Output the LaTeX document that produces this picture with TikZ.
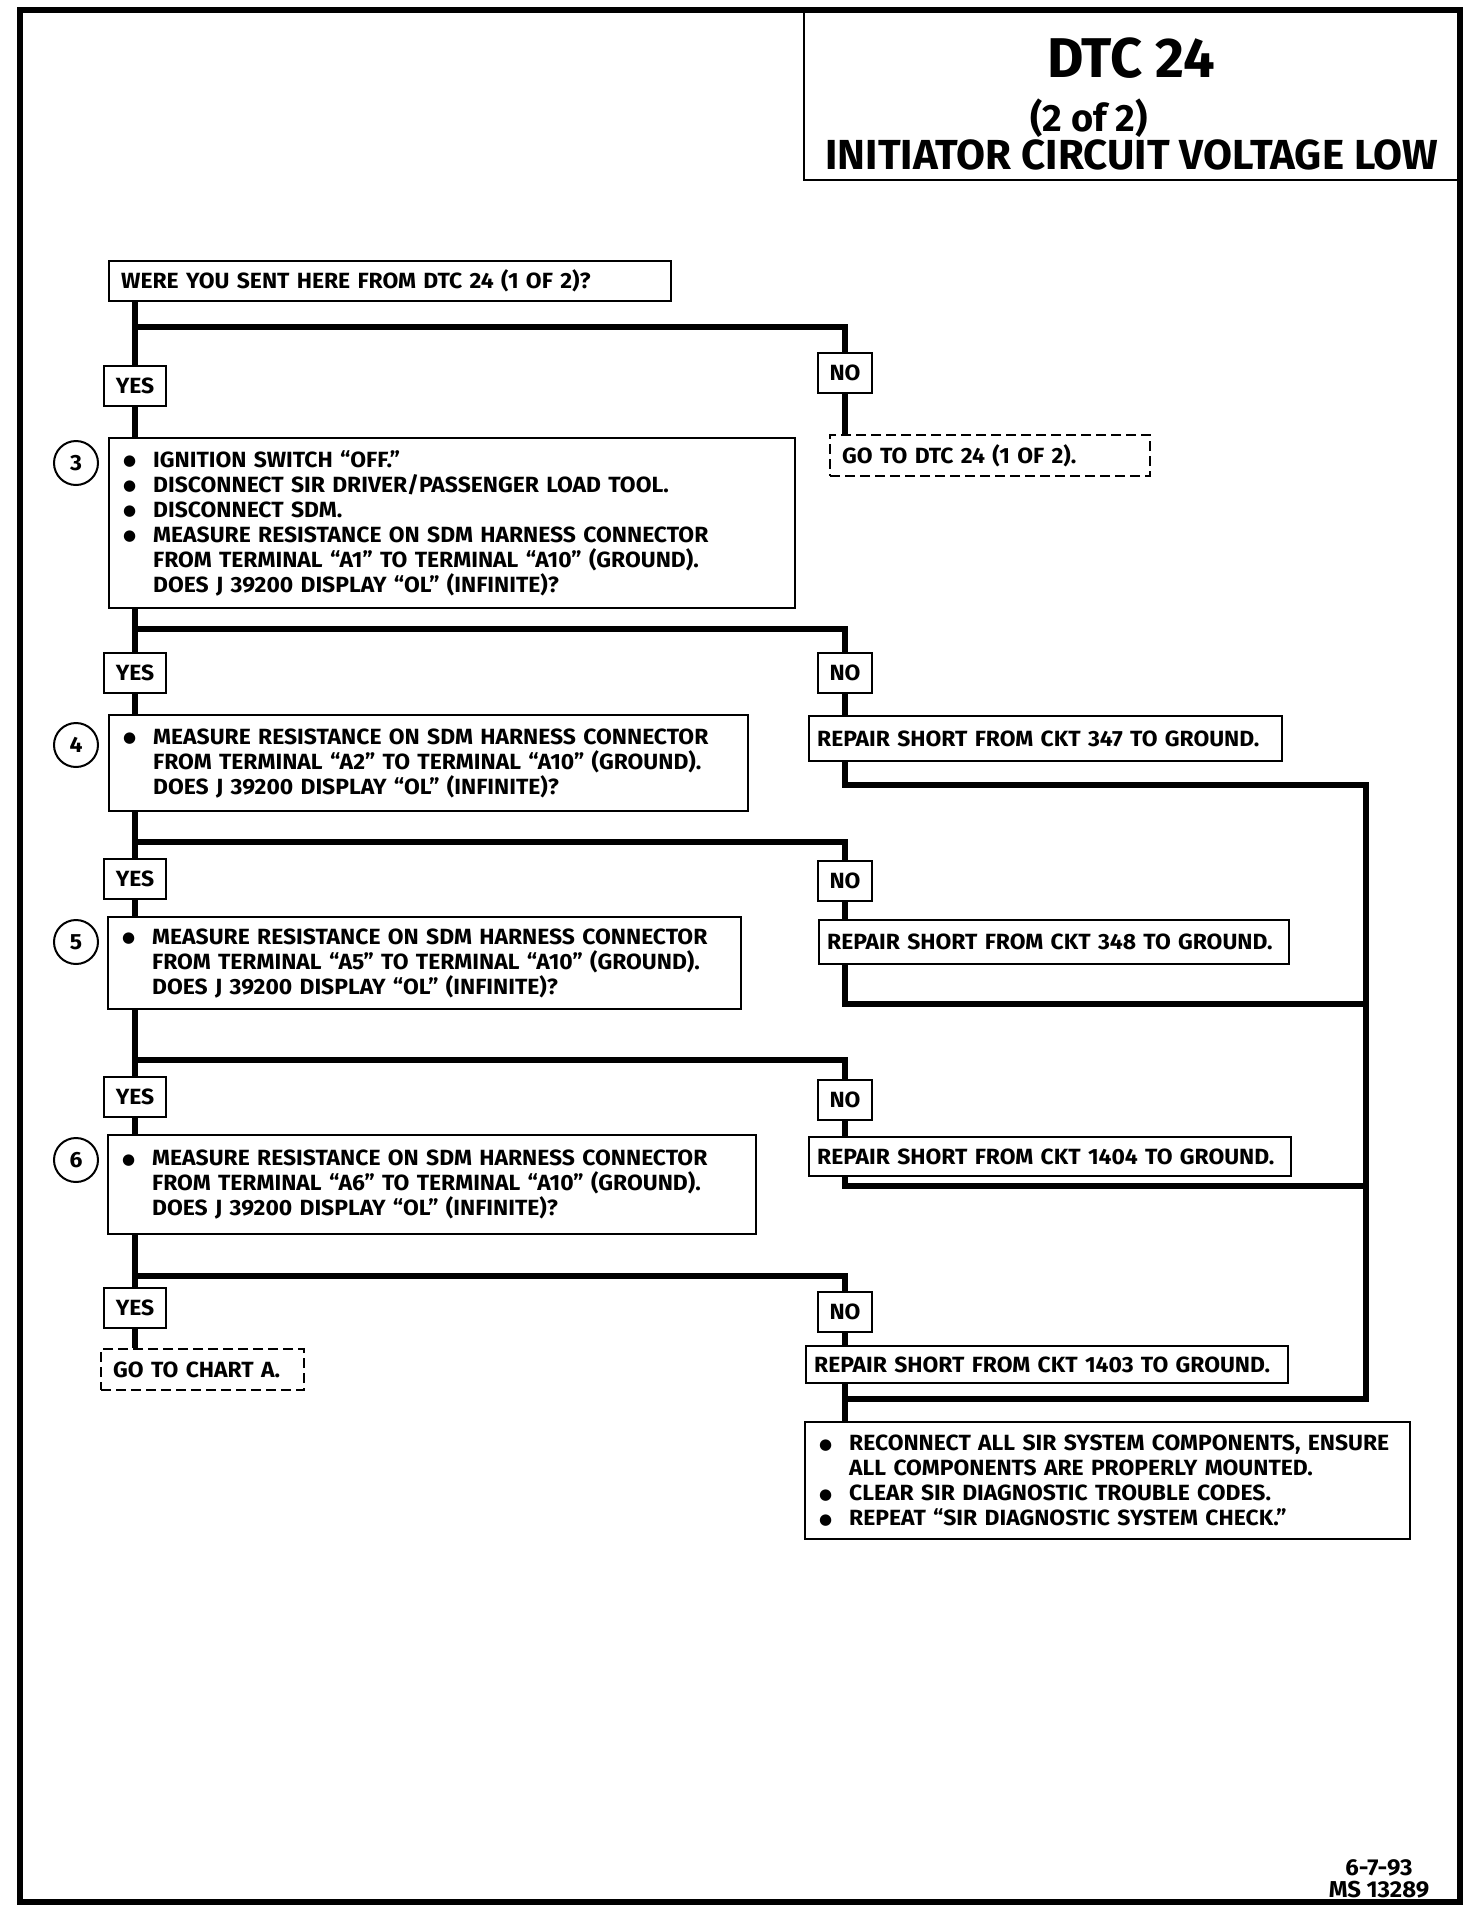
\documentclass[tikz,border=0pt]{standalone}
\usepackage{fontspec}
\setmainfont{Fira Sans}
\newfontfamily\sirfont{Fira Sans}[FakeStretch=1.04]
\newfontfamily\dotfont{DejaVu Sans}
\newcommand{\bodyfont}{\sirfont\bfseries\fontsize{11}{12.45}\selectfont}
\newcommand{\sirbul}{\makebox[16pt][l]{\hspace{1pt}\raisebox{0.8pt}{\dotfont\fontsize{7.5}{7.5}\selectfont ●}}}
\newcommand{\sirind}{\hspace*{16pt}}
\tikzset{
  conn/.style={line width=3pt},
  stepbox/.style={draw, line width=1.2pt, anchor=north west, align=left, inner xsep=6pt, inner ysep=0pt, font=\bodyfont},
  repairbox/.style={stepbox, inner xsep=4pt},
  gobox/.style={stepbox, dash pattern=on 5pt off 2.5pt},
  ans/.style={draw, line width=1.2pt, inner sep=0pt, minimum height=20pt, font=\bodyfont},
  stepnum/.style={draw, circle, line width=1pt, minimum size=22pt, inner sep=0pt, font=\bodyfont}
}

\begin{document}
\begin{tikzpicture}[x=0.5pt,y=-0.5pt]
    \useasboundingbox (0,0) rectangle (1472,1912);
    \draw[line width=3pt] (20,10) rectangle (1460,1902); % page frame
    \draw[line width=1.2pt] (804,10) rectangle (1460,180); % title panel

    \node[font=\bfseries\fontsize{28}{28}\selectfont] (dtc) at (1131,58) {DTC 24};
    \node[font=\bfseries\fontsize{19}{19}\selectfont] (part) at (1089,118) {(2 of 2)};
    \node[font=\bfseries\fontsize{21}{21}\selectfont] (ttl) at (1132,155) {INITIATOR CIRCUIT VOLTAGE LOW};

    % question and test steps
    \node[stepbox, text width=269pt, minimum height=20pt] (q) at (108,260) {WERE YOU SENT HERE FROM DTC 24 (1 OF 2)?};
    \node[stepbox, text width=331pt, minimum height=85pt] (s3) at (108,437) {\sirbul IGNITION SWITCH “OFF.”\\
        \sirbul DISCONNECT SIR DRIVER/PASSENGER LOAD TOOL.\\
        \sirbul DISCONNECT SDM.\\
        \sirbul MEASURE RESISTANCE ON SDM HARNESS CONNECTOR\\
        \sirind FROM TERMINAL “A1” TO TERMINAL “A10” (GROUND).\\
        \sirind DOES J 39200 DISPLAY “OL” (INFINITE)?};
    \node[stepbox, text width=307.5pt, minimum height=48pt] (s4) at (108,714) {\sirbul MEASURE RESISTANCE ON SDM HARNESS CONNECTOR\\
        \sirind FROM TERMINAL “A2” TO TERMINAL “A10” (GROUND).\\
        \sirind DOES J 39200 DISPLAY “OL” (INFINITE)?};
    \node[stepbox, text width=304.5pt, minimum height=46pt] (s5) at (107,916) {\sirbul MEASURE RESISTANCE ON SDM HARNESS CONNECTOR\\
        \sirind FROM TERMINAL “A5” TO TERMINAL “A10” (GROUND).\\
        \sirind DOES J 39200 DISPLAY “OL” (INFINITE)?};
    \node[stepbox, text width=312pt, minimum height=49.5pt] (s6) at (107,1134) {\sirbul MEASURE RESISTANCE ON SDM HARNESS CONNECTOR\\
        \sirind FROM TERMINAL “A6” TO TERMINAL “A10” (GROUND).\\
        \sirind DOES J 39200 DISPLAY “OL” (INFINITE)?};
    \foreach \n/\y in {3/463,4/745,5/942,6/1160}
        \node[stepnum] (c\n) at (76,\y) {\n}; % step numbers

    % repairs and exits
    \node[gobox, text width=148pt, minimum height=20.5pt] (go1) at (829,434) {GO TO DTC 24 (1 OF 2).};
    \node[gobox, text width=89.5pt, minimum height=20.5pt] (goA) at (100,1348) {GO TO CHART A.};
    \node[repairbox, text width=228.5pt, minimum height=22.5pt] (r347) at (808,715) {REPAIR SHORT FROM CKT 347 TO GROUND.};
    \node[repairbox, text width=227pt, minimum height=22pt] (r348) at (818,919) {REPAIR SHORT FROM CKT 348 TO GROUND.};
    \node[repairbox, text width=233pt, minimum height=19.5pt] (r1404) at (808,1136) {REPAIR SHORT FROM CKT 1404 TO GROUND.};
    \node[repairbox, text width=233pt, minimum height=18.5pt] (r1403) at (805,1345) {REPAIR SHORT FROM CKT 1403 TO GROUND.};
    \node[stepbox, text width=290.5pt, minimum height=58.5pt] (fin) at (804,1421) {\sirbul RECONNECT ALL SIR SYSTEM COMPONENTS, ENSURE\\
        \sirind ALL COMPONENTS ARE PROPERLY MOUNTED.\\
        \sirbul CLEAR SIR DIAGNOSTIC TROUBLE CODES.\\
        \sirbul REPEAT “SIR DIAGNOSTIC SYSTEM CHECK.”};

    % answer labels
    \foreach \i/\y in {1/386,2/673,3/879,4/1097,5/1308}
        \node[ans, minimum width=31pt] (yes\i) at (135,\y) {YES};
    \foreach \i/\y in {1/373,2/673,3/881,4/1100,5/1312}
        \node[ans, minimum width=27pt] (no\i) at (845,\y) {NO};
    \foreach \i/\y in {1/327,2/629,3/842,4/1060,5/1276}
        \coordinate (b\i) at (135,\y); % branch points
    \foreach \c/\y in {347/785,348/1004,1404/1186,1403/1399}
        \coordinate (m\c) at (1366,\y); % joins on the return line

    % connectors
    \draw[conn] (q.south -| yes1.north) -- (yes1.north);
    \draw[conn] (yes1.south) -- (yes1.south |- s3.north);
    \draw[conn] (b1) -| (no1.north);
    \draw[conn] (no1.south) -- (no1.south |- go1.north);
    \foreach \a/\b/\i in {s3/s4/2,s4/s5/3,s5/s6/4}{
        \draw[conn] (\a.south -| yes\i.north) -- (yes\i.north);
        \draw[conn] (yes\i.south) -- (yes\i.south |- \b.north);
        \draw[conn] (b\i) -| (no\i.north);
    }
    \draw[conn] (s6.south -| yes5.north) -- (yes5.north);
    \draw[conn] (yes5.south) -- (yes5.south |- goA.north);
    \draw[conn] (b5) -| (no5.north);
    \foreach \i/\r in {2/r347,3/r348,4/r1404,5/r1403}
        \draw[conn] (no\i.south) -- (no\i.south |- \r.north);
    \draw[conn] (no2.south |- r347.south) |- (m347) -- (m1403) -- (no5.south |- m1403);
    \draw[conn] (no3.south |- r348.south) |- (m348);
    \draw[conn] (no4.south |- r1404.south) |- (m1404);
    \draw[conn] (no5.south |- r1403.south) -- (no5.south |- fin.north);

    \node[font=\sirfont\bfseries\fontsize{11.5}{11}\selectfont, align=center] (date) at (1379,1879) {6-7-93\\MS 13289};
\end{tikzpicture}
\end{document}
